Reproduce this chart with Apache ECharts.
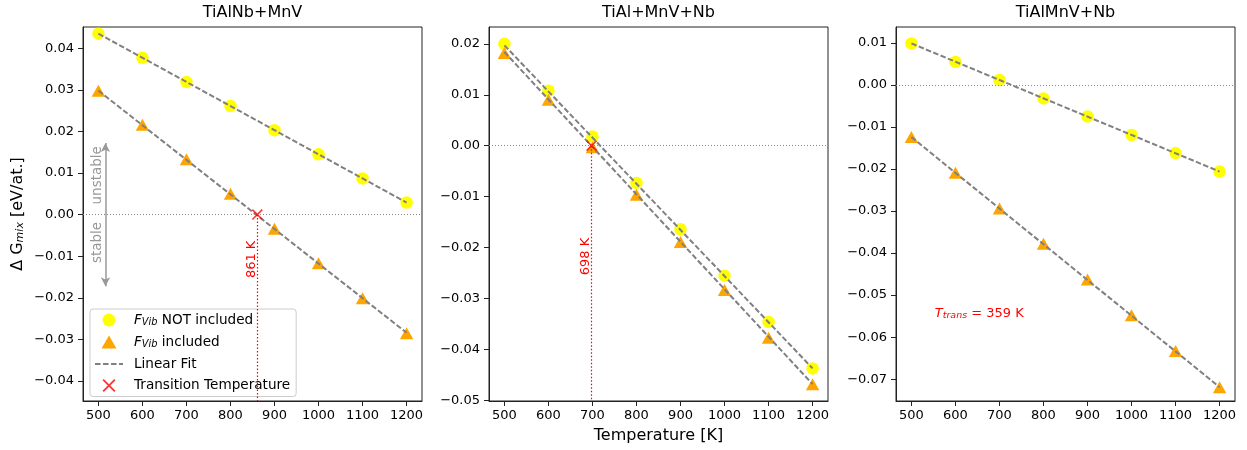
<!DOCTYPE html>
<html><head><meta charset="utf-8">
<script src="https://cdn.jsdelivr.net/npm/echarts@6/dist/echarts.min.js"></script>
<style>html,body{margin:0;padding:0;background:#fff}#c{width:1247px;height:450px}</style>
</head><body><div id="c"></div>
<script>
// ---- data ----
const panelTitles = ['TiAlNb+MnV', 'TiAl+MnV+Nb', 'TiAlMnV+Nb'];
const temps = [500, 600, 700, 800, 900, 1000, 1100, 1200];
const p1NoVib = [0.0435, 0.0377, 0.0319, 0.0261, 0.0203, 0.0145, 0.0087, 0.0029];
const p1Vib   = [0.0298, 0.0216, 0.0133, 0.0050, -0.0034, -0.0117, -0.0201, -0.0285];
const p2NoVib = [0.0200, 0.0108, 0.0018, -0.0073, -0.0164, -0.0255, -0.0346, -0.0437];
const p2Vib   = [0.0182, 0.0090, -0.0003, -0.0096, -0.0189, -0.0283, -0.0377, -0.0468];
const p3NoVib = [0.0099, 0.0055, 0.0012, -0.0032, -0.0075, -0.0119, -0.0162, -0.0206];
const p3Vib   = [-0.0124, -0.0209, -0.0294, -0.0378, -0.0463, -0.0548, -0.0633, -0.0719];
const fitX = [500, 1200];
const p1FitNo = [0.0435, 0.0029], p1FitVib = [0.0298, -0.0284];
const p2FitNo = [0.0197, -0.0437], p2FitVib = [0.0184, -0.0468];
const p3FitNo = [0.0099, -0.0206], p3FitVib = [-0.0124, -0.0719];
const transTemps = [861, 698, null];
const transLabels = ['861 K', '698 K', null];
const transText3 = '359 K';
const xTicks = [500, 600, 700, 800, 900, 1000, 1100, 1200];
const p1YTicks = [-0.04, -0.03, -0.02, -0.01, 0, 0.01, 0.02, 0.03, 0.04];
const p2YTicks = [-0.05, -0.04, -0.03, -0.02, -0.01, 0, 0.01, 0.02];
const p3YTicks = [-0.07, -0.06, -0.05, -0.04, -0.03, -0.02, -0.01, 0, 0.01];
const yRanges = [[-0.0448, 0.0451], [-0.0501, 0.0233], [-0.0752, 0.0138]];
const xRange = [465, 1235];
// ---------------------------------------

const FF = 'DejaVu Sans';
const noVib = [p1NoVib, p2NoVib, p3NoVib];
const vib = [p1Vib, p2Vib, p3Vib];
const fitNo = [p1FitNo, p2FitNo, p3FitNo];
const fitVib = [p1FitVib, p2FitVib, p3FitVib];
const yTicks = [p1YTicks, p2YTicks, p3YTicks];
const lefts = [83, 489, 896];
const W = 339, TOP = 27, H = 374;
const XPATH = 'path://M0,0.1L0.1,0L1,0.9L0.9,1ZM0.9,0L1,0.1L0.1,1L0,0.9Z';
const TRIPATH = 'path://M5,0L10,8.7L0,8.7Z';
const DASHPATH = 'path://M0,0h5.5v2h-5.5zM8,0h5.5v2h-5.5zM16,0h5.5v2h-5.5zM24,0h4v2h-4z';
const FIT_DASH = [5.5, 2.4];

const fmtY = v => (v < -1e-9 ? '\u2212' : '') + Math.abs(v).toFixed(2);

const grids = [], xAxes = [], yAxes = [], series = [], graphics = [];
for (let i = 0; i < 3; i++) {
  grids.push({left: lefts[i], width: W, top: TOP, height: H, show: true,
    borderColor: '#222', borderWidth: 1, backgroundColor: 'transparent'});
  xAxes.push({type: 'value', gridIndex: i, min: xRange[0], max: xRange[1],
    splitLine: {show: false},
    axisLine: {show: true, onZero: false, lineStyle: {color: '#222', width: 1}},
    axisTick: {show: true, inside: false, length: 5, lineStyle: {color: '#222'}, customValues: xTicks},
    axisLabel: {customValues: xTicks, color: '#000', fontSize: 13, fontFamily: FF, margin: 8,
      formatter: v => String(v)},
    name: i === 1 ? 'Temperature [K]' : '', nameLocation: 'middle', nameGap: 27,
    nameTextStyle: {fontSize: 16, color: '#000', fontFamily: FF}
  });
  yAxes.push({type: 'value', gridIndex: i, min: yRanges[i][0], max: yRanges[i][1],
    splitLine: {show: false},
    axisLine: {show: true, onZero: false, lineStyle: {color: '#222', width: 1}},
    axisTick: {show: true, inside: false, length: 5, lineStyle: {color: '#222'}, customValues: yTicks[i]},
    axisLabel: {customValues: yTicks[i], color: '#000', fontSize: 13, fontFamily: FF, margin: 9,
      formatter: fmtY},
    name: i === 0 ? '{n|\u0394 G}{s|mix}{n| [eV/at.]}' : '', nameLocation: 'middle', nameGap: 57,
    nameRotate: 90,
    nameTextStyle: {color: '#000', fontFamily: FF, fontSize: 16,
      rich: {n: {fontSize: 16, fontFamily: FF, color: '#000'},
             s: {fontSize: 11, fontFamily: FF, fontStyle: 'italic', color: '#000', padding: [6, 0, 0, 0]}}}
  });
  graphics.push({type: 'text', x: lefts[i] + W / 2, y: 13,
    style: {text: panelTitles[i], textAlign: 'center', textVerticalAlign: 'middle',
      font: '16px "DejaVu Sans"', fill: '#000'}});

  const sNo = {name: 'NOT', type: 'scatter', xAxisIndex: i, yAxisIndex: i,
    data: temps.map((t, k) => [t, noVib[i][k]]), symbol: 'circle', symbolSize: 12.5,
    itemStyle: {color: '#ffff00', opacity: 1}, z: 2,
    markLine: {silent: true, symbol: ['none', 'none'], label: {show: false},
      lineStyle: {color: '#888', type: [1, 2], width: 1}, data: [{yAxis: 0}], animation: false}
  };
  const sVib = {name: 'inc', type: 'scatter', xAxisIndex: i, yAxisIndex: i,
    data: temps.map((t, k) => [t, vib[i][k]]), symbol: TRIPATH, symbolSize: [13.5, 12],
    itemStyle: {color: '#ffa500', opacity: 1}, z: 2
  };
  series.push(sNo, sVib);
  series.push({name: 'fit', type: 'line', xAxisIndex: i, yAxisIndex: i,
    data: fitX.map((x, k) => [x, fitNo[i][k]]), symbol: 'none', itemStyle: {color: '#808080'},
    lineStyle: {color: '#808080', type: FIT_DASH, width: 2}, z: 3});
  series.push({name: 'fit', type: 'line', xAxisIndex: i, yAxisIndex: i,
    data: fitX.map((x, k) => [x, fitVib[i][k]]), symbol: 'none', itemStyle: {color: '#808080'},
    lineStyle: {color: '#808080', type: FIT_DASH, width: 2}, z: 3});

  if (transTemps[i] !== null) {
    const tt = transTemps[i];
    const ymid = i === 0 ? -0.01075 : -0.02175;
    const lx = i === 0 ? 849 : 684;
    const redDot = {color: '#ff0000', type: [1.5, 2], width: 1.2};
    series.push({name: 'tt', type: 'scatter', xAxisIndex: i, yAxisIndex: i,
      data: [[tt, 0]], symbol: XPATH, symbolSize: 11, itemStyle: {color: '#ff0000'}, z: 4,
      markLine: {silent: true, symbol: ['none', 'none'], label: {show: false},
        lineStyle: redDot,
        data: [[{coord: [tt, 0], lineStyle: redDot}, {coord: [tt, yRanges[i][0]], lineStyle: redDot}]]},
      markPoint: {silent: true, data: [{coord: [lx, ymid], symbol: 'circle', symbolSize: 0,
        label: {show: true, formatter: transLabels[i], rotate: 90, color: '#ff0000', fontSize: 13,
          fontFamily: FF, position: 'inside'}}]}
    });
  }
  if (i === 0) {
    sVib.markLine = {silent: true, label: {show: false}, symbol: ['arrow', 'arrow'], symbolSize: [7, 9],
      lineStyle: {color: '#999', type: 'solid', width: 1.5},
      data: [[{coord: [516, 0.0172]}, {coord: [516, -0.0172]}]]};
    sVib.markPoint = {silent: true, data: [
      {coord: [497, 0.00945], symbol: 'circle', symbolSize: 0,
        label: {show: true, formatter: 'unstable', rotate: 90, color: '#999', fontSize: 13.5, fontFamily: FF, position: 'inside'}},
      {coord: [497, -0.0067], symbol: 'circle', symbolSize: 0,
        label: {show: true, formatter: 'stable', rotate: 90, color: '#999', fontSize: 13.5, fontFamily: FF, position: 'inside'}}
    ]};
  }
  if (i === 2) {
    sVib.markPoint = {silent: true, data: [
      {coord: [553, -0.0543], symbol: 'circle', symbolSize: 0,
        label: {show: true, position: 'right', distance: 0, color: '#ff0000', fontSize: 13, fontFamily: FF,
          formatter: '{i|T}{s|trans}{n| = ' + transText3 + '}',
          rich: {i: {fontStyle: 'italic', fontSize: 13, fontFamily: FF, color: '#ff0000'},
                 s: {fontStyle: 'italic', fontSize: 9.5, fontFamily: FF, color: '#ff0000', padding: [5, 0, 0, 0]},
                 n: {fontSize: 13, fontFamily: FF, color: '#ff0000'}}}}
    ]};
  }
}

const legendNames = {
  NOT: '{sp|}{i|F}{s|Vib}{n| NOT included}',
  inc: '{sp|}{i|F}{s|Vib}{n| included}',
  fit: '{sp|}{n|Linear Fit}',
  tt: '{sp|}{n|Transition Temperature}'
};

const option = {
  animation: false,
  textStyle: {fontFamily: FF},
  grid: grids, xAxis: xAxes, yAxis: yAxes, series: series, graphic: graphics,
  legend: {
    data: [
      {name: 'NOT', icon: 'circle', itemStyle: {color: '#ffff00'}},
      {name: 'inc', icon: TRIPATH, itemStyle: {color: '#ffa500'}},
      {name: 'fit', icon: DASHPATH, itemStyle: {color: '#808080', borderWidth: 0}},
      {name: 'tt', icon: XPATH, itemStyle: {color: '#ff0000'}}
    ],
    orient: 'vertical', left: 90, top: 309, padding: [4, 6, 4, 5],
    itemWidth: 28, itemHeight: 13, itemGap: 7.5, selectedMode: false, symbolKeepAspect: true,
    backgroundColor: 'rgba(255,255,255,0.85)', borderColor: '#ccc', borderWidth: 1, borderRadius: 3,
    formatter: n => legendNames[n],
    textStyle: {fontSize: 13.6, color: '#000', fontFamily: FF,
      rich: {sp: {width: 6},
             n: {fontSize: 13.6, fontFamily: FF, color: '#000'},
             i: {fontSize: 13.6, fontFamily: FF, fontStyle: 'italic', color: '#000'},
             s: {fontSize: 9.8, fontFamily: FF, fontStyle: 'italic', color: '#000', padding: [5, 0, 0, 0]}}}
  }
};
const chart = echarts.init(document.getElementById('c'), null, {renderer: 'canvas'});
chart.setOption(option);
</script></body></html>
